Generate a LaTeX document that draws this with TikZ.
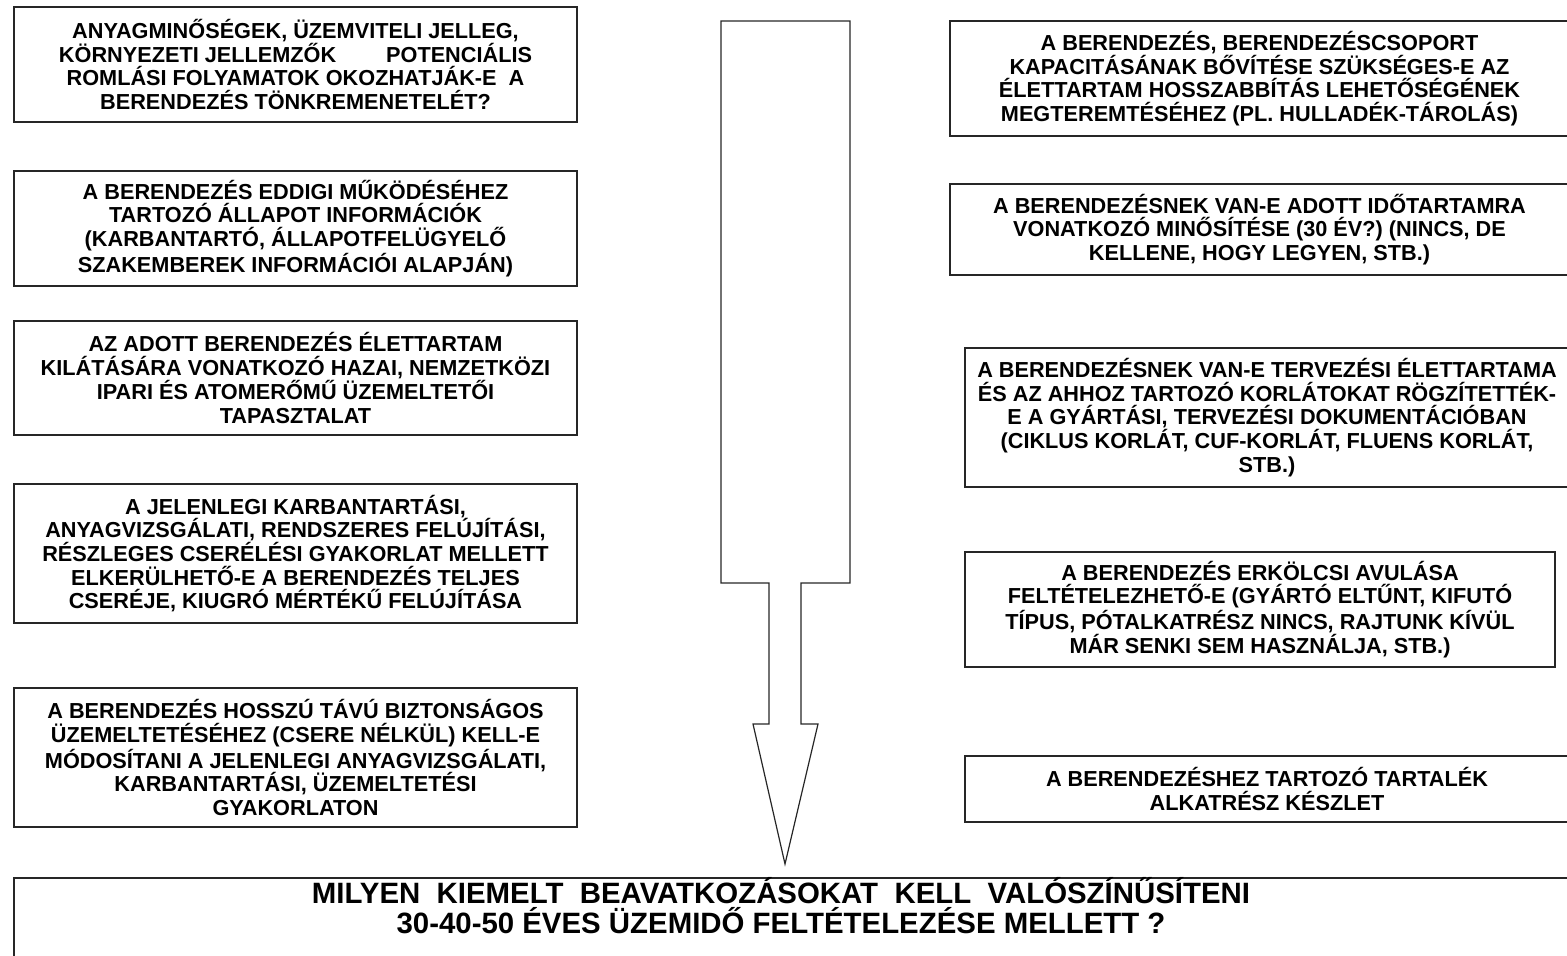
\documentclass[tikz,border=0pt]{standalone}
\usepackage{fontspec}
\setmainfont{Liberation Sans}
\newcommand\boxfont{\fontsize{10.85}{11.85}\selectfont\bfseries}
\newcommand\goalfont{\fontsize{14.7}{15}\selectfont\bfseries}
\begin{document}
\begin{tikzpicture}[x=0.5pt, y=-0.5pt, line join=miter,
  box/.style={draw=black!85, line width=0.6pt, align=center, inner sep=0pt, font=\boxfont},
  flow/.style={draw=black!85, line width=0.6pt}]
\useasboundingbox (0,0) rectangle (1567,956);

% ---------- left column: questions on the equipment itself ----------
\node[box, minimum width=281.5pt, minimum height=57.5pt] (romlas) at (295.5,64.5)
  {ANYAGMINŐSÉGEK, ÜZEMVITELI JELLEG,\\ KÖRNYEZETI JELLEMZŐK\hspace{2.3em}POTENCIÁLIS\\ ROMLÁSI FOLYAMATOK OKOZHATJÁK-E\ \ A\\ BERENDEZÉS TÖNKREMENETELÉT?};
\node[box, minimum width=281.5pt, minimum height=57.5pt] (allapot) at (295.5,228.5)
  {A BERENDEZÉS EDDIGI MŰKÖDÉSÉHEZ\\ TARTOZÓ ÁLLAPOT INFORMÁCIÓK\\ (KARBANTARTÓ, ÁLLAPOTFELÜGYELŐ\\ SZAKEMBEREK INFORMÁCIÓI ALAPJÁN)};
\node[box, minimum width=281.5pt, minimum height=57pt] (tapaszt) at (295.5,378)
  {AZ ADOTT BERENDEZÉS ÉLETTARTAM\\ KILÁTÁSÁRA VONATKOZÓ HAZAI, NEMZETKÖZI\\ IPARI ÉS ATOMERŐMŰ ÜZEMELTETŐI\\ TAPASZTALAT};
\node[box, minimum width=281.5pt, minimum height=69.5pt] (csere) at (295.5,553.5)
  {A JELENLEGI KARBANTARTÁSI,\\ ANYAGVIZSGÁLATI, RENDSZERES FELÚJÍTÁSI,\\ RÉSZLEGES CSERÉLÉSI GYAKORLAT MELLETT\\ ELKERÜLHETŐ-E A BERENDEZÉS TELJES\\ CSERÉJE, KIUGRÓ MÉRTÉKŰ FELÚJÍTÁSA};
\node[box, minimum width=281.5pt, minimum height=69.5pt] (modosit) at (295.5,757.5)
  {A BERENDEZÉS HOSSZÚ TÁVÚ BIZTONSÁGOS\\ ÜZEMELTETÉSÉHEZ (CSERE NÉLKÜL) KELL-E\\ MÓDOSÍTANI A JELENLEGI ANYAGVIZSGÁLATI,\\ KARBANTARTÁSI, ÜZEMELTETÉSI\\ GYAKORLATON};

% ---------- right column: capacity, qualification, design life, spares ----------
\node[box, minimum width=309.5pt, minimum height=57.5pt] (kapac) at (1259.5,78.5)
  {A BERENDEZÉS, BERENDEZÉSCSOPORT\\ KAPACITÁSÁNAK BŐVÍTÉSE SZÜKSÉGES-E AZ\\ ÉLETTARTAM HOSSZABBÍTÁS LEHETŐSÉGÉNEK\\ MEGTEREMTÉSÉHEZ (PL. HULLADÉK-TÁROLÁS)};
\node[box, minimum width=309.5pt, minimum height=45.5pt] (minosit) at (1259.5,229.5)
  {A BERENDEZÉSNEK VAN-E ADOTT IDŐTARTAMRA\\ VONATKOZÓ MINŐSÍTÉSE (30 ÉV?) (NINCS, DE\\ KELLENE, HOGY LEGYEN, STB.)};
\node[box, minimum width=302pt, minimum height=69.5pt] (tervez) at (1267,417.5)
  {A BERENDEZÉSNEK VAN-E TERVEZÉSI ÉLETTARTAMA\\ ÉS AZ AHHOZ TARTOZÓ KORLÁTOKAT RÖGZÍTETTÉK-\\ E A GYÁRTÁSI, TERVEZÉSI DOKUMENTÁCIÓBAN\\ (CIKLUS KORLÁT, CUF-KORLÁT, FLUENS KORLÁT,\\ STB.)};
\node[box, minimum width=295pt, minimum height=57.5pt] (avulas) at (1260,609.5)
  {A BERENDEZÉS ERKÖLCSI AVULÁSA\\ FELTÉTELEZHETŐ-E (GYÁRTÓ ELTŰNT, KIFUTÓ\\ TÍPUS, PÓTALKATRÉSZ NINCS, RAJTUNK KÍVÜL\\ MÁR SENKI SEM HASZNÁLJA, STB.)};
\node[box, minimum width=302pt, minimum height=33pt] (tartalek) at (1267,789)
  {A BERENDEZÉSHEZ TARTOZÓ TARTALÉK\\ ALKATRÉSZ KÉSZLET};

% ---------- the big down arrow into the conclusion ----------
\draw[flow] (721,21) -- (850,21) -- (850,583) -- (801,583) -- (801,724) -- (818,724)
  -- (785,864) -- (753,724) -- (769,724) -- (769,583) -- (721,583) -- cycle;

% ---------- conclusion box (runs off the bottom edge) ----------
\node[box, minimum width=777.5pt, minimum height=56pt] (cel) at (791.5,934) {};
\node[align=center, inner sep=0pt, font=\goalfont] (celszoveg) at (781,906)
  {MILYEN\ \ KIEMELT\ \ BEAVATKOZÁSOKAT\ \ KELL\ \ VALÓSZÍNŰSÍTENI\\ 30-40-50 ÉVES ÜZEMIDŐ FELTÉTELEZÉSE MELLETT ?};

\end{tikzpicture}
\end{document}
